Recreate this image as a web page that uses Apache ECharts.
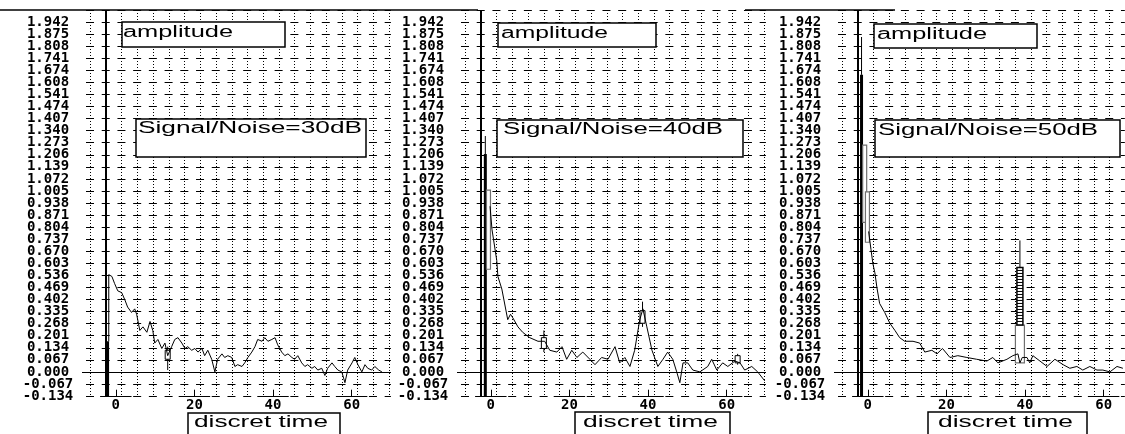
<!DOCTYPE html>
<html><head><meta charset="utf-8">
<script src="https://cdn.jsdelivr.net/npm/echarts@6/dist/echarts.min.js"></script>
<style>html,body{margin:0;padding:0;background:#fff}#c{width:1125px;height:434px}</style>
</head><body><div id="c"></div>
<script>
// ---------- data ----------
const yTickLabels = ["-0.134","-0.067","0.000","0.067","0.134","0.201","0.268","0.335","0.402","0.469","0.536","0.603","0.670","0.737","0.804","0.871","0.938","1.005","1.072","1.139","1.206","1.273","1.340","1.407","1.474","1.541","1.608","1.674","1.741","1.808","1.875","1.942"];
const xTickLabels = [0, 20, 40, 60];
const yName = "amplitude";
const xName = "discret time";
const panelTitles = ["Signal/Noise=30dB", "Signal/Noise=40dB", "Signal/Noise=50dB"];

const p1Line = [[-1.8,0.17],[-1.8,0.54],[-1.0,0.53],[-0.3,0.49],[0.5,0.45],[1.5,0.44],[2.3,0.40],[3.0,0.36],[4.0,0.33],[4.8,0.35],[5.3,0.32],[6.1,0.23],[6.9,0.25],[7.9,0.22],[8.7,0.28],[9.4,0.23],[9.9,0.16],[10.7,0.18],[11.7,0.13],[12.5,0.16],[13.2,0.09],[14.2,0.14],[15.0,0.18],[15.8,0.19],[16.8,0.16],[17.6,0.13],[18.3,0.14],[19.3,0.12],[20.1,0.13],[20.9,0.11],[21.9,0.13],[22.6,0.09],[23.4,0.12],[24.4,0.07],[25.2,0.00],[25.9,0.07],[27.0,0.10],[27.7,0.08],[28.5,0.09],[29.5,0.08],[30.3,0.03],[31.0,0.04],[32.1,0.03],[32.8,0.05],[33.6,0.08],[34.6,0.11],[35.4,0.14],[36.1,0.18],[37.2,0.17],[37.9,0.19],[38.7,0.17],[39.7,0.18],[40.5,0.19],[41.2,0.15],[42.2,0.11],[43.0,0.09],[43.8,0.10],[44.8,0.08],[45.5,0.07],[46.3,0.09],[47.3,0.05],[48.1,0.03],[48.8,0.04],[49.9,0.02],[50.6,0.03],[51.4,0.01],[52.4,0.02],[53.2,-0.02],[53.9,0.02],[55.0,0.05],[55.7,0.03],[56.5,0.01],[57.5,0.00],[58.3,-0.06],[59.0,0.01],[60.1,0.05],[60.8,0.08],[61.6,0.04],[62.6,0.00],[63.4,0.04],[64.1,0.02],[65.1,0.01],[65.9,0.03],[66.9,0.01],[67.7,0.00]];
const p2Line = [[-0.2,0.92],[0.3,0.79],[1.5,0.62],[1.8,0.53],[2.8,0.46],[4.3,0.29],[5.0,0.32],[5.6,0.30],[6.9,0.25],[8.1,0.22],[9.9,0.19],[12.0,0.17],[13.7,0.17],[15.0,0.12],[16.8,0.11],[18.1,0.14],[19.3,0.07],[20.6,0.12],[21.9,0.08],[23.4,0.11],[25.2,0.07],[26.5,0.04],[28.2,0.08],[29.8,0.07],[31.6,0.14],[32.8,0.05],[34.1,0.08],[35.4,0.03],[36.6,0.12],[37.9,0.29],[38.7,0.35],[39.7,0.25],[41.0,0.12],[42.5,0.03],[43.8,0.07],[45.0,0.11],[46.3,0.07],[47.3,0.00],[48.1,-0.06],[48.9,0.05],[50.1,0.05],[51.4,0.01],[53.2,0.00],[55.2,0.03],[56.2,0.07],[57.5,0.01],[59.0,0.05],[60.3,0.03],[62.1,0.06],[63.4,0.05],[64.6,0.01],[66.4,0.03],[67.9,0.00],[69.7,-0.05]];
const p3Line = [[0.2,0.78],[0.8,0.68],[1.3,0.60],[1.8,0.55],[2.3,0.47],[3.0,0.38],[4.3,0.33],[5.6,0.27],[6.9,0.23],[8.1,0.19],[9.4,0.17],[11.5,0.17],[13.2,0.16],[14.5,0.11],[16.3,0.12],[17.6,0.10],[19.0,0.13],[20.9,0.08],[22.9,0.09],[25.2,0.08],[27.7,0.07],[30.3,0.06],[31.8,0.08],[33.1,0.05],[35.4,0.07],[36.9,0.09],[38.2,0.10],[38.7,0.05],[39.3,0.08],[40.5,0.08],[41.2,0.05],[42.0,0.09],[43.8,0.06],[45.6,0.03],[47.6,0.07],[49.7,0.04],[51.4,0.02],[53.2,0.03],[54.7,0.01],[56.5,0.03],[58.3,0.01],[59.8,0.01],[61.6,0.00],[63.4,0.03],[64.9,0.02]];

// black impulse bars from the axis bottom: [t, top, peak]
const p1Pulse = [[-2.1, 0.17, 0.17]];
const p2Pulse = [[-1.4, 1.21, 1.31]];
const p3Pulse = [[-1.6, 1.65, 1.86]];
// grey hollow bars: [t, low, high]
const p1Grey = [];
const p2Grey = [[-0.6, 0.57, 1.01]];
const p3Grey = [[-0.8, 0.83, 1.26], [-0.1, 0.72, 1.00]];
// small hollow boxes with whiskers: [t, low, boxLow, boxHigh, high]
const p1Boxes = [[13.2, 0.01, 0.07, 0.12, 0.14]];
const p2Boxes = [[13.5, 0.11, 0.13, 0.19, 0.23], [38.6, 0.25, 0.27, 0.34, 0.39], [62.8, 0.04, 0.05, 0.09, 0.10]];
const p3Boxes = [];
// echo spike: [t, baseLow, baseHigh, boxHigh, peak]
const p1Echo = [];
const p2Echo = [];
const p3Echo = [[38.7, 0.05, 0.26, 0.58, 0.73]];

// ---------- layout ----------
const PX = 3.93, AXIS_T = -2.5, PAD = 24;
const Y_MIN = -0.134, Y_MAX = 2.010, Y_STEP = 0.067;
const TOP = 10, HEIGHT = 386;
const FONT_MONO = '"DejaVu Sans Mono", monospace';
const panels = [
  {axisX: 106, tMax: 70, line: p1Line, pulse: p1Pulse, grey: p1Grey, boxes: p1Boxes, echo: p1Echo,
   amp: [122, 22, 163, 25, 123, 33, 110], sn: [136, 119, 230, 38, 138, 128.5, 224], dt: [188, 413, 152, 30, 194, 423, 134]},
  {axisX: 481, tMax: 70, line: p2Line, pulse: p2Pulse, grey: p2Grey, boxes: p2Boxes, echo: p2Echo,
   amp: [498, 23, 158, 24, 501, 33.5, 107], sn: [497, 120, 246, 37, 503, 130, 220], dt: [575, 412, 155, 30, 583, 423, 135]},
  {axisX: 858, tMax: 65.4, line: p3Line, pulse: p3Pulse, grey: p3Grey, boxes: p3Boxes, echo: p3Echo,
   amp: [874, 24, 163, 24, 877, 35, 110], sn: [875, 120, 245, 37, 878, 131, 220], dt: [928, 412, 159, 30, 938, 423, 135]}
];

const measureCtx = document.createElement('canvas').getContext('2d');
const BOX_FONT = '16px "Liberation Sans", Arial, sans-serif';
function textBox(spec, text) {
  const [rx, ry, rw, rh, tx, ty, tw] = spec;
  measureCtx.font = BOX_FONT;
  const w = measureCtx.measureText(text).width;
  return [
    {type: 'rect', z: 100, shape: {x: rx, y: ry, width: rw, height: rh},
     style: {fill: '#fff', stroke: '#000', lineWidth: 1.5}},
    {type: 'text', z: 101, x: tx, y: ty, scaleX: tw / w,
     style: {text: text, font: BOX_FONT, fill: '#000', align: 'left', verticalAlign: 'middle'}}
  ];
}

const grids = [], xAxes = [], yAxes = [], series = [], graphics = [];
const yValues = yTickLabels.map((s, k) => +(Y_MIN + k * Y_STEP).toFixed(3));
const yRows = yValues.concat([Y_MAX]);
const yEven = yValues.filter((v, k) => k % 2 === 0);
const yOdd = yValues.filter((v, k) => k % 2 === 1);
const yFmt = v => { const i = Math.round((v - Y_MIN) / Y_STEP); return yTickLabels[i] || ''; };
const yLabelStyle = {formatter: yFmt, align: 'center', margin: 34, color: '#000', fontFamily: FONT_MONO,
  fontSize: 14, fontWeight: 'bold', hideOverlap: false, showMinLabel: true, showMaxLabel: true};

function custom(i, data, draw) {
  return {type: 'custom', xAxisIndex: i, yAxisIndex: 2 * i, data: data, silent: true, z: 3,
    renderItem: (params, api) => draw(api)};
}

panels.forEach((p, i) => {
  const tMin = AXIS_T - PAD / PX;
  const vgrid = [];
  for (let v = AXIS_T - 4; v <= p.tMax; v += 4) vgrid.push(v);
  grids.push({left: p.axisX - PAD, top: TOP, width: (p.tMax - tMin) * PX, height: HEIGHT});
  xAxes.push({type: 'value', gridIndex: i, min: tMin, max: p.tMax,
    axisLine: {show: false, onZero: false},
    axisTick: {show: false, customValues: vgrid},
    splitLine: {show: true, lineStyle: {color: '#000', width: 1, type: [1, 2]}},
    axisLabel: {customValues: xTickLabels, color: '#000', fontFamily: FONT_MONO, fontSize: 14, fontWeight: 'bold', margin: 2}
  });
  // main y axis: grid rows + even labels
  yAxes.push({type: 'value', gridIndex: i, min: Y_MIN, max: Y_MAX, position: 'left',
    axisLine: {show: false, onZero: false},
    axisTick: {show: false, customValues: yRows},
    splitLine: {show: true, lineStyle: {color: '#000', width: 1, type: [8, 7.72], dashOffset: 11.72}},
    axisLabel: Object.assign({customValues: yEven}, yLabelStyle)
  });
  // companion y axis: odd labels only
  yAxes.push({type: 'value', gridIndex: i, min: Y_MIN, max: Y_MAX, position: 'left', offset: 0,
    axisLine: {show: false, onZero: false},
    axisTick: {show: false},
    splitLine: {show: false},
    axisLabel: Object.assign({customValues: yOdd}, yLabelStyle)
  });
  const tickSegs = [];
  xTickLabels.forEach(t => {
    tickSegs.push([{coord: [t - 4, Y_MIN]}, {coord: [t + 4, Y_MIN]}]);
    tickSegs.push([{coord: [t, Y_MIN]}, {coord: [t, Y_MIN + 0.035]}]);
  });
  series.push({type: 'line', xAxisIndex: i, yAxisIndex: 2 * i, data: p.line, symbol: 'none', z: 4,
    lineStyle: {color: '#000', width: 1}, animation: false,
    markLine: {silent: true, symbol: 'none', animation: false, label: {show: false},
      lineStyle: {color: '#000', type: 'solid', width: 1},
      data: [{yAxis: 0}, {xAxis: AXIS_T, lineStyle: {width: 2}}].concat(tickSegs)}
  });
  series.push(custom(i, p.pulse, api => {
    const t = api.value(0), b = api.coord([t, Y_MIN]), top = api.coord([t, api.value(1)]), pk = api.coord([t, api.value(2)]);
    return {type: 'group', children: [
      {type: 'rect', shape: {x: b[0] - 1.5, y: top[1], width: 3, height: b[1] - top[1]}, style: {fill: '#000'}},
      {type: 'line', shape: {x1: pk[0], y1: pk[1], x2: top[0], y2: top[1]}, style: {stroke: '#000', lineWidth: 1}}
    ]};
  }));
  series.push(custom(i, p.grey, api => {
    const t = api.value(0), lo = api.coord([t, api.value(1)]), hi = api.coord([t, api.value(2)]);
    return {type: 'rect', shape: {x: lo[0] - 2, y: hi[1], width: 4, height: lo[1] - hi[1]},
      style: {fill: '#fff', stroke: '#707070', lineWidth: 1.2}};
  }));
  series.push(custom(i, p.boxes, api => {
    const t = api.value(0);
    const l = api.coord([t, api.value(1)]), bl = api.coord([t, api.value(2)]), bh = api.coord([t, api.value(3)]), h = api.coord([t, api.value(4)]);
    return {type: 'group', children: [
      {type: 'line', shape: {x1: l[0], y1: l[1], x2: h[0], y2: h[1]}, style: {stroke: '#000', lineWidth: 1}},
      {type: 'rect', shape: {x: bl[0] - 2.5, y: bh[1], width: 5, height: bl[1] - bh[1]},
       style: {fill: '#fff', stroke: '#000', lineWidth: 1}}
    ]};
  }));
  series.push(custom(i, p.echo, api => {
    const t = api.value(0);
    const b0 = api.coord([t, api.value(1)]), b1 = api.coord([t, api.value(2)]), b2 = api.coord([t, api.value(3)]), pk = api.coord([t, api.value(4)]);
    const kids = [
      {type: 'rect', shape: {x: b0[0] - 4.5, y: b1[1], width: 9, height: b0[1] - b1[1]}, style: {fill: '#fff', stroke: '#707070', lineWidth: 1.2}},
      {type: 'line', shape: {x1: pk[0], y1: pk[1], x2: b2[0], y2: b2[1]}, style: {stroke: '#000', lineWidth: 1}},
      {type: 'rect', shape: {x: b1[0] - 3, y: b2[1], width: 6, height: b1[1] - b2[1]}, style: {fill: '#fff', stroke: '#000', lineWidth: 1.5}}
    ];
    for (let y = b2[1] + 3; y < b1[1] - 1; y += 3) {
      kids.push({type: 'line', shape: {x1: b1[0] - 3, y1: y, x2: b1[0] + 3, y2: y}, style: {stroke: '#000', lineWidth: 1}});
    }
    return {type: 'group', children: kids};
  }));
  graphics.push(...textBox(p.amp, yName), ...textBox(p.sn, panelTitles[i]), ...textBox(p.dt, xName));
});

graphics.push({type: 'line', z: 100, shape: {x1: 0, y1: 10, x2: 478, y2: 10}, style: {stroke: '#000', lineWidth: 1.5}});
graphics.push({type: 'line', z: 100, shape: {x1: 745, y1: 10, x2: 895, y2: 10}, style: {stroke: '#000', lineWidth: 1.5}});

const chart = echarts.init(document.getElementById('c'), null, {renderer: 'canvas'});
chart.setOption({
  animation: false,
  backgroundColor: '#fff',
  grid: grids, xAxis: xAxes, yAxis: yAxes, series: series, graphic: graphics
});
</script></body></html>
